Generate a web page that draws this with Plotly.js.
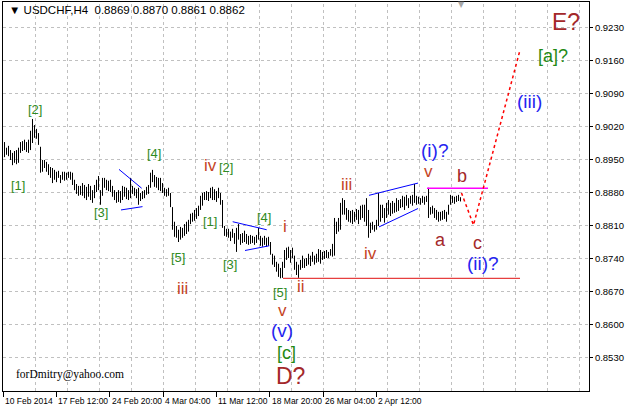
<!DOCTYPE html>
<html><head><meta charset="utf-8">
<script src="https://cdn.plot.ly/plotly-3.0.1.min.js"></script>
<style>html,body{margin:0;padding:0;background:#fff}#chart{width:626px;height:408px}</style>
</head><body><div id="chart"></div>
<script>
// ---- data (H4 bars, index = bar number) ----
const highs = [
0.8987,0.8975,0.8979,0.8970,0.8964,0.8968,0.8970,0.8975,0.8987,0.8989,
0.8992,0.8987,0.8992,0.9011,0.9036,0.9023,0.9015,0.9006,0.8977,0.8949,
0.8949,0.8945,0.8940,0.8934,0.8932,0.8928,0.8924,0.8926,0.8917,0.8924,
0.8924,0.8922,0.8924,0.8924,0.8922,0.8907,0.8898,0.8894,0.8894,0.8900,
0.8896,0.8892,0.8898,0.8894,0.8885,0.8896,0.8907,0.8915,0.8885,0.8911,
0.8911,0.8907,0.8905,0.8907,0.8894,0.8885,0.8881,0.8885,0.8883,0.8894,
0.8892,0.8890,0.8885,0.8911,0.8894,0.8890,0.8887,0.8890,0.8879,0.8883,
0.8885,0.8892,0.8896,0.8922,0.8928,0.8917,0.8913,0.8911,0.8911,0.8900,
0.8890,0.8887,0.8890,0.8879,0.8849,0.8818,0.8809,0.8801,0.8807,0.8805,
0.8813,0.8818,0.8822,0.8835,0.8837,0.8843,0.8847,0.8852,0.8873,0.8879,
0.8881,0.8883,0.8881,0.8890,0.8892,0.8887,0.8883,0.8890,0.8879,0.8864,
0.8809,0.8803,0.8803,0.8797,0.8803,0.8794,0.8805,0.8813,0.8792,0.8794,
0.8799,0.8792,0.8788,0.8790,0.8788,0.8786,0.8790,0.8805,0.8788,0.8784,
0.8788,0.8784,0.8786,0.8775,0.8750,0.8746,0.8733,0.8729,0.8720,0.8733,
0.8758,0.8763,0.8765,0.8758,0.8763,0.8746,0.8733,0.8727,0.8737,0.8746,
0.8739,0.8741,0.8750,0.8746,0.8754,0.8746,0.8750,0.8760,0.8758,0.8754,
0.8756,0.8758,0.8754,0.8760,0.8771,0.8826,0.8818,0.8826,0.8858,0.8868,
0.8864,0.8847,0.8843,0.8841,0.8843,0.8839,0.8845,0.8843,0.8852,0.8854,
0.8854,0.8868,0.8843,0.8816,0.8818,0.8811,0.8822,0.8879,0.8854,0.8854,
0.8847,0.8858,0.8864,0.8858,0.8862,0.8858,0.8868,0.8864,0.8866,0.8873,
0.8871,0.8875,0.8868,0.8873,0.8875,0.8898,0.8873,0.8871,0.8868,0.8873,
0.8871,0.8873,0.8890,0.8849,0.8852,0.8847,0.8843,0.8839,0.8839,0.8841,
0.8843,0.8839,0.8854,0.8875,0.8873,0.8871,0.8873,0.8875,0.8870];
const lows = [
0.8955,0.8960,0.8957,0.8949,0.8938,0.8943,0.8940,0.8943,0.8964,0.8968,
0.8970,0.8966,0.8964,0.8970,0.8985,0.8996,0.8994,0.8981,0.8922,0.8924,
0.8932,0.8924,0.8917,0.8911,0.8900,0.8907,0.8902,0.8911,0.8900,0.8907,
0.8905,0.8907,0.8911,0.8907,0.8896,0.8885,0.8877,0.8873,0.8875,0.8873,
0.8868,0.8864,0.8871,0.8864,0.8858,0.8868,0.8881,0.8885,0.8854,0.8873,
0.8890,0.8885,0.8883,0.8881,0.8871,0.8864,0.8858,0.8860,0.8858,0.8864,
0.8871,0.8866,0.8864,0.8868,0.8877,0.8873,0.8868,0.8854,0.8862,0.8866,
0.8868,0.8875,0.8877,0.8890,0.8902,0.8892,0.8890,0.8885,0.8883,0.8879,
0.8873,0.8871,0.8873,0.8849,0.8801,0.8786,0.8784,0.8775,0.8780,0.8784,
0.8788,0.8792,0.8797,0.8813,0.8818,0.8820,0.8824,0.8830,0.8843,0.8852,
0.8864,0.8864,0.8862,0.8868,0.8864,0.8864,0.8860,0.8868,0.8854,0.8805,
0.8788,0.8786,0.8784,0.8777,0.8784,0.8771,0.8754,0.8780,0.8769,0.8773,
0.8775,0.8771,0.8769,0.8771,0.8773,0.8769,0.8773,0.8780,0.8767,0.8765,
0.8769,0.8765,0.8767,0.8748,0.8727,0.8722,0.8712,0.8701,0.8698,0.8699,
0.8720,0.8737,0.8741,0.8731,0.8741,0.8716,0.8705,0.8699,0.8716,0.8720,
0.8720,0.8724,0.8727,0.8724,0.8733,0.8727,0.8731,0.8733,0.8729,0.8737,
0.8739,0.8741,0.8741,0.8746,0.8744,0.8746,0.8792,0.8797,0.8801,0.8833,
0.8833,0.8822,0.8818,0.8816,0.8813,0.8818,0.8822,0.8813,0.8822,0.8826,
0.8818,0.8809,0.8784,0.8794,0.8801,0.8797,0.8801,0.8809,0.8818,0.8826,
0.8816,0.8826,0.8833,0.8830,0.8835,0.8837,0.8839,0.8841,0.8847,0.8849,
0.8843,0.8852,0.8847,0.8856,0.8852,0.8858,0.8854,0.8856,0.8854,0.8858,
0.8854,0.8860,0.8826,0.8833,0.8835,0.8826,0.8822,0.8818,0.8820,0.8822,
0.8824,0.8818,0.8833,0.8854,0.8858,0.8856,0.8860,0.8862,0.8861];

const lastBar = [0.8869, 0.8870, 0.8861, 0.8862];   // O H L C of the last bar
const symbolName = 'USDCHF,H4';

const timeTickText = ['10 Feb 2014','17 Feb 12:00','24 Feb 20:00','4 Mar 04:00','11 Mar 12:00','18 Mar 20:00','26 Mar 04:00','2 Apr 12:00'];
const priceTicks = [0.8530,0.8600,0.8670,0.8740,0.8810,0.8880,0.8950,0.9020,0.9090,0.9160,0.9230];

// trend lines (bar index, price)
const tri1UpIdx = [57.25, 68.6],   tri1UpPx = [0.8929, 0.8889];
const tri1LoIdx = [58.25, 69.0],   tri1LoPx = [0.8843, 0.8850];
const tri2UpIdx = [114.1, 131.1],  tri2UpPx = [0.8818, 0.8801];
const tri2LoIdx = [120.25, 132.4], tri2LoPx = [0.8757, 0.8767];
const chanUpIdx = [182.25, 206.75], chanUpPx = [0.8874, 0.8900];
const chanLoIdx = [187.25, 206.75], chanLoPx = [0.8807, 0.8846];
const bLevelIdx = [211.25, 241.75], bLevelPx = [0.8889, 0.8889];
const lowLevelIdx = [139.25, 257.75], lowLevelPx = [0.8698, 0.8698];
const projIdx = [228.5, 234.5, 257.75], projPx = [0.8879, 0.8811, 0.9182];

// wave labels
const labelText  = ['[2]','[1]','[3]','[4]','[5]','iii','iv','[2]','[1]','[3]','[4]','i','[5]','ii','v','(v)','[c]','D?','iii','iv','v','(i)?','a','b','c','(ii)?','(iii)','[a]?','E?'];
const labelIdx   = [15.25,6.75,48.25,74.75,86.75,88.75,102.75,110.75,102.75,112.75,129.75,140.25,137.75,148.25,138.75,138.75,140.75,142.75,170.75,182.75,211.75,214.75,217.75,228.75,236.25,239.25,262.25,274.25,280.75];
const labelPrice = [0.9057,0.8894,0.8837,0.8962,0.8743,0.8676,0.8938,0.8932,0.8818,0.8727,0.8828,0.8807,0.8668,0.8680,0.8629,0.8587,0.8540,0.8491,0.8898,0.8750,0.8924,0.8970,0.8780,0.8915,0.8773,0.8730,0.9072,0.9170,0.9242];
const labelKind  = ['g','g','g','g','g','r','r','g','g','g','g','r','g','r','r','b','G','D','r','r','r','b','a','a','a','b','b','G','D'];

// ---- styling ----
const SANS = 'Liberation Sans, Arial, sans-serif';
const kindStyle = {
  g: {color:'#2f8a22', size:13, family:SANS},
  G: {color:'#1f8a14', size:18, family:SANS},
  r: {color:'#c5441f', size:17, family:SANS},
  a: {color:'#a3282a', size:18, family:SANS},
  b: {color:'#2525f0', size:19, family:SANS},
  D: {color:'#a3282a', size:23, family:SANS}
};

const barX = [], barY = [];
for (let i = 0; i < highs.length; i++) { barX.push(i, i, null); barY.push(lows[i], highs[i], null); }

const traces = [
  {x: barX, y: barY, type:'scatter', mode:'lines', line:{color:'#000', width:1}, hoverinfo:'skip'},
  {x: tri1UpIdx, y: tri1UpPx, mode:'lines', line:{color:'#0000ff', width:1}},
  {x: tri1LoIdx, y: tri1LoPx, mode:'lines', line:{color:'#0000ff', width:1}},
  {x: tri2UpIdx, y: tri2UpPx, mode:'lines', line:{color:'#0000ff', width:1}},
  {x: tri2LoIdx, y: tri2LoPx, mode:'lines', line:{color:'#0000ff', width:1}},
  {x: chanUpIdx, y: chanUpPx, mode:'lines', line:{color:'#0000ff', width:1}},
  {x: chanLoIdx, y: chanLoPx, mode:'lines', line:{color:'#0000ff', width:1}},
  {x: lowLevelIdx, y: lowLevelPx, mode:'lines', line:{color:'#e01010', width:1}},
  {x: bLevelIdx, y: bLevelPx, mode:'lines', line:{color:'#ff00ff', width:1.5}},
  {x: projIdx, y: projPx, mode:'lines', line:{color:'#ff0000', width:1.5, dash:'dot'}}
];

// plot area in pixels: x 3..589, y 2..391 ; 2 px per bar
const L = 3, R = 589, T = 2, B = 391;
const xr = [-0.75, 292.25];
const yr = [0.845894, 0.928409];
const px = x => (x - L) / (R - L);
const py = y => (B - y) / (B - T);

// time labels every 80/3 bars, grid every 16 bars
const labelStep = 80 / 3;
const timeTickIdx = timeTickText.map((t, k) => xr[0] + k * labelStep);

const annotations = labelText.map((t, k) => ({
  x: labelIdx[k], y: labelPrice[k], xref:'x', yref:'y', text: t, showarrow:false,
  xanchor:'center', yanchor:'middle', font: kindStyle[labelKind[k]]
}));
timeTickText.forEach((t, k) => annotations.push({
  x: timeTickIdx[k], y: py(400.5), xref:'x', yref:'paper', text: t, showarrow:false,
  xanchor:'left', yanchor:'middle',
  font:{family:SANS, size:8.5, color:'#000'}
}));
annotations.push({xref:'paper', yref:'paper', x: px(7), y: py(10), xanchor:'left', yanchor:'middle', showarrow:false,
  text: '\u25BC ' + symbolName + '\u00a0\u00a0' + lastBar.map(v => v.toFixed(4)).join(' '),
  font:{family:SANS, size:11.5, color:'#000'}});
annotations.push({xref:'paper', yref:'paper', x: px(14), y: py(374), xanchor:'left', yanchor:'middle', showarrow:false,
  text: 'forDmitry@yahoo.com', font:{family:'Liberation Serif, Times New Roman, serif', size:11.5, color:'#000'}});
annotations.push({xref:'paper', yref:'paper', x: px(461.5), y: py(5), xanchor:'center', yanchor:'middle', showarrow:false,
  text: '\u25BC', font:{family:'DejaVu Sans, sans-serif', size:8, color:'#a8a8a8'}});

const shapes = [];
for (let k = 1; k < 19; k++) {
  const v = -0.5 + k * 16;
  shapes.push({type:'line', xref:'x', yref:'paper', x0:v, x1:v, y0:0, y1:1, layer:'below',
    line:{color:'#c0c0c0', width:1, dash:'3px,3px'}});
}

const layout = {
  width:626, height:408, margin:{l:L, r:626-R, t:T, b:408-B, pad:0},
  paper_bgcolor:'#fff', plot_bgcolor:'#fff', showlegend:false,
  font:{family:SANS, size:10, color:'#000'},
  xaxis:{range:xr, tickmode:'array', tickvals:timeTickIdx, showticklabels:false,
    ticks:'outside', ticklen:5, tickcolor:'#000', showgrid:false, zeroline:false,
    showline:true, linecolor:'#000', linewidth:1, mirror:true},
  yaxis:{range:yr, side:'right', tickmode:'array', tickvals:priceTicks,
    ticktext: priceTicks.map(v => v.toFixed(4)),
    ticks:'outside', ticklen:3, tickcolor:'#000', showgrid:true, gridcolor:'#c0c0c0', griddash:'3px,3px',
    zeroline:false, showline:true, linecolor:'#000', linewidth:1, mirror:true,
    tickfont:{size:9.5, color:'#000'}},
  shapes: shapes,
  annotations: annotations
};

Plotly.newPlot('chart', traces, layout, {staticPlot:true, displayModeBar:false});
</script>
</body></html>
